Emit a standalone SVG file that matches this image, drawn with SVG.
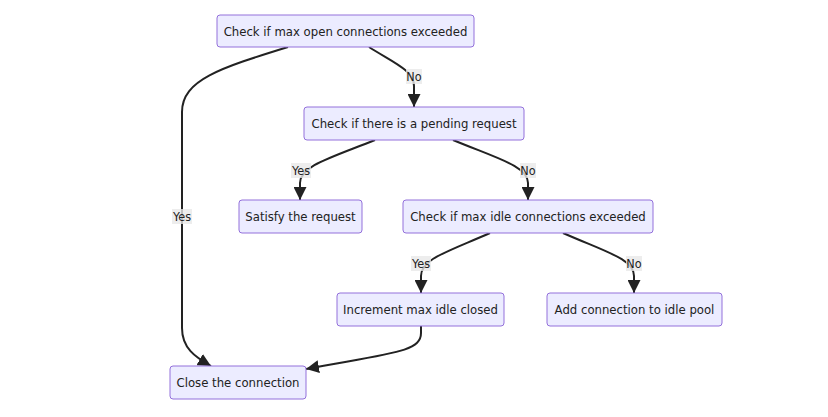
<svg xmlns="http://www.w3.org/2000/svg" width="828" height="417" viewBox="0 0 828 417">
<defs>
<style>
.node rect{fill:#ECECFF;stroke:#9370DB;stroke-width:1}
.node text{font-family:"DejaVu Sans Condensed","DejaVu Sans",Verdana,sans-serif;font-stretch:condensed;font-size:13px;fill:#222;text-anchor:middle;dominant-baseline:central}
.edge{fill:none;stroke:#222;stroke-width:2}
.lbl rect{fill:#e8e8e8;opacity:0.8}
.lbl text{font-family:"DejaVu Sans Condensed","DejaVu Sans",Verdana,sans-serif;font-stretch:condensed;font-size:12.5px;fill:#222;text-anchor:middle;dominant-baseline:central}
</style>
<marker id="arrow" viewBox="0 0 10 10" refX="10" refY="5" markerUnits="userSpaceOnUse" markerWidth="13" markerHeight="13" orient="auto">
<path d="M0,0 L10,5 L0,10 z" fill="#222"/>
</marker>
</defs>
<rect width="828" height="417" fill="#fff"/>
<g id="connectors">
<path class="edge" d="M369,47 C392,62 414,70 414,86 L414,107" marker-end="url(#arrow)"/>
<path class="edge" d="M288,47 C220,68 182,80 182,112 L182,328 C182,348 195,357 211,366" marker-end="url(#arrow)"/>
<path class="edge" d="M375,140 C330,158 300,166 300,183 L300,200" marker-end="url(#arrow)"/>
<path class="edge" d="M453,140 C496,158 528,166 528,183 L528,200" marker-end="url(#arrow)"/>
<path class="edge" d="M490,233 C447,252 421,259 421,276 L421,293" marker-end="url(#arrow)"/>
<path class="edge" d="M563,233 C606,252 634,259 634,276 L634,293" marker-end="url(#arrow)"/>
<path class="edge" d="M421,326 L421,333 C421,352 392,353 306,369" marker-end="url(#arrow)"/>
<g class="lbl"><rect x="406" y="69" width="16" height="15"/><text x="414" y="76.5">No</text></g>
<g class="lbl"><rect x="172" y="209" width="20" height="15"/><text x="182" y="216.5">Yes</text></g>
<g class="lbl"><rect x="291" y="163" width="20" height="15"/><text x="301" y="170.5">Yes</text></g>
<g class="lbl"><rect x="520" y="163" width="16" height="15"/><text x="528" y="170.5">No</text></g>
<g class="lbl"><rect x="411" y="256" width="20" height="15"/><text x="421" y="263.5">Yes</text></g>
<g class="lbl"><rect x="626" y="256" width="16" height="15"/><text x="634" y="263.5">No</text></g>
</g>
<g id="n1" class="node"><rect x="217" y="15" width="257" height="32" rx="3"/><text x="345.5" y="31">Check if max open connections exceeded</text></g>
<g id="n2" class="node"><rect x="304" y="107" width="220" height="33" rx="3"/><text x="414" y="123.5">Check if there is a pending request</text></g>
<g id="n3" class="node"><rect x="239" y="200" width="123" height="33" rx="3"/><text x="300.5" y="216.5">Satisfy the request</text></g>
<g id="n4" class="node"><rect x="403" y="200" width="250" height="33" rx="3"/><text x="528" y="216.5">Check if max idle connections exceeded</text></g>
<g id="n5" class="node"><rect x="337" y="293" width="167" height="33" rx="3"/><text x="420.5" y="309.5">Increment max idle closed</text></g>
<g id="n6" class="node"><rect x="547" y="293" width="175" height="33" rx="3"/><text x="634.5" y="309.5">Add connection to idle pool</text></g>
<g id="n7" class="node"><rect x="170" y="366" width="136" height="33" rx="3"/><text x="238" y="382.5">Close the connection</text></g>
</svg>
